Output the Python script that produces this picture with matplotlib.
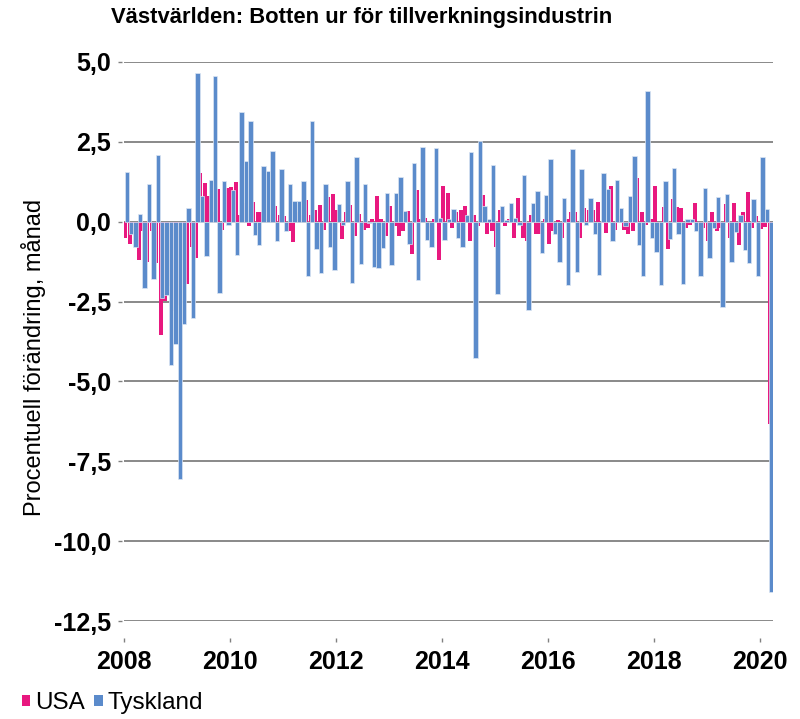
import matplotlib
matplotlib.use("Agg")
import matplotlib.pyplot as plt
from matplotlib.patches import Patch
import numpy as np

plt.rcParams['font.family'] = ['Liberation Sans', 'DejaVu Sans']

title = "Västvärlden: Botten ur för tillverkningsindustrin"
ylabel = "Procentuell förändring, månad"
year_labels = ["2008", "2010", "2012", "2014", "2016", "2018", "2020"]
series_names = ["USA", "Tyskland"]

# Monthly % change, Jan 2008 .. Mar 2020
usa = [
    -0.5, -0.7, -0.4, -1.2, -0.3, -1.25, -0.3, -1.3, -3.55, -2.47, -2.0, -2.8,
    -2.6, -1.2, -1.95, -0.8, -1.13, 1.53, 1.2, 0.8, 0.3, 1.03, -0.25, 1.07,
    1.1, 1.23, 0.2, 0.6, -0.15, 0.63, 0.3, 0.3, 0.1, 0.2, 0.5, 0.2,
    0.19, -0.3, -0.63, 0.3, 0.2, 0.69, 0.2, 0.38, 0.53, -0.27, 0.77, 0.87,
    0.36, -0.55, 0.3, 0.53, -0.45, 0.25, -0.25, -0.2, 0.1, 0.79, 0.1, -0.45,
    0.48, -0.12, -0.45, -0.3, 0.33, -1.02, 0.98, 0.1, 0.13, -0.2, 0.1, -1.2,
    1.11, 0.9, -0.2, 0.3, 0.38, 0.48, -0.6, 0.2, -0.12, 0.85, -0.4, -0.3,
    -0.8, 0.38, -0.12, 0.1, -0.5, 0.73, -0.5, -0.6, 0.2, -0.4, -0.4, 0.1,
    -0.7, -0.3, 0.05, -0.5, 0.1, 0.29, 0.29, -0.5, 0.44, 0.38, 0.38, 0.63,
    -0.05, -0.35, 1.13, -0.25, 0.17, -0.25, -0.4, -0.3, 1.38, 0.3, -0.1, 0.1,
    1.13, -0.3, 0.47, -0.85, 0.7, 0.45, 0.44, -0.2, -0.1, 0.58, -0.1, -0.2,
    -0.6, 0.3, -0.3, -0.2, 0.56, -0.5, 0.6, -0.74, 0.3, 0.94, -0.2, 0.19,
    -0.22, -0.18, -6.34,
]
tyskland = [
    1.55, -0.4, -0.8, 0.25, -2.08, 1.17, -1.8, 2.1, -2.4, -2.3, -4.5, -3.83,
    -8.05, -3.19, 0.42, -3.03, 4.67, 0.79, -1.08, 1.32, 4.55, -2.24, 1.27, -0.1,
    1.0, -1.04, 3.44, 1.91, 3.14, -0.42, -0.74, 1.74, 1.59, 2.22, -0.6, 1.64,
    -0.28, 1.19, 0.66, 0.66, 1.28, -1.71, 3.14, -0.87, -1.6, 1.17, -0.8, -1.5,
    0.56, -0.1, 1.28, -1.92, 2.01, -1.31, 1.19, -0.05, -1.41, -1.44, -0.82, 0.9,
    -1.34, 0.9, 1.4, 0.35, -0.71, 1.83, -1.81, 2.33, -0.57, -0.78, 2.32, 0.13,
    -0.57, 0.1, 0.4, -0.5, -0.8, 0.2, 2.17, -4.27, 2.54, 0.5, 0.1, 1.77,
    -2.27, 0.5, 0.05, 0.6, 0.13, -0.1, 1.45, -2.76, 0.6, 0.95, -0.99, 0.85,
    1.95, -0.4, -1.27, 0.75, -1.97, 2.27, -1.57, 1.66, -0.1, 0.73, -0.4, -1.66,
    1.54, 1.03, -0.59, 1.32, 0.42, -0.12, 0.8, 2.07, -0.74, -1.69, 4.09, -0.5,
    -0.95, -1.97, 1.28, -0.55, 1.67, -0.4, -1.94, 0.1, 0.1, -0.29, -1.71, 1.05,
    -1.15, -0.2, 0.77, -2.68, 0.88, -1.26, -0.31, 0.21, -0.9, -1.29, 0.71, -1.69,
    2.02, 0.4, -11.6,
]

PINK = "#E8187F"
BLUE = "#5B8BCB"
PX = 72.0 / 100.0  # points per pixel at dpi 100

fig = plt.figure(figsize=(8.0, 7.19), dpi=100)
ax = fig.add_axes([0.155, 0.1363, 0.811, 0.7775])

# spine positions first (this resets ticks)
for s in ["top", "right"]:
    ax.spines[s].set_visible(False)
ax.spines["bottom"].set_position(("outward", 17 * PX))
ax.spines["bottom"].set_visible(False)
ax.spines["left"].set_position(("outward", 2 * PX))
ax.spines["left"].set_visible(False)

n = len(usa)
x = np.arange(n) + 0.5
ax.bar(x - 0.2, usa, width=0.9, color=PINK, linewidth=0, zorder=2)
ax.bar(x + 0.15, tyskland, width=1.0, color=BLUE, edgecolor="#DCE6F3",
       linewidth=0.5, zorder=3)

ax.set_xlim(0, n)
ax.set_ylim(-12.5, 5.0)
yt = np.arange(-12.5, 5.01, 2.5)
ax.set_yticks(yt)
ax.set_yticklabels([("%.1f" % v).replace(".", ",") for v in yt])
ax.set_xticks(np.arange(0, n, 24))
ax.set_xticklabels(year_labels)
for lab in ax.get_xticklabels() + ax.get_yticklabels():
    lab.set_fontsize(18)
    lab.set_fontweight("bold")

ax.grid(axis="y", color="#808080", linewidth=1.3, zorder=1)
ax.set_axisbelow(True)
ax.tick_params(axis="x", length=4 * PX, width=1, color="#808080", pad=8 * PX)
ax.tick_params(axis="y", length=4 * PX, width=1, color="#808080", pad=7 * PX)

ax.set_ylabel(ylabel, fontsize=17)
ax.yaxis.set_label_coords(-0.12, 0.472)
fig.text(0.4525, 0.975, title, fontsize=15.8, fontweight="bold",
         ha="center", va="center")

handles = [Patch(facecolor=PINK, edgecolor="none"),
           Patch(facecolor=BLUE, edgecolor="none")]
fig.legend(handles, series_names, loc="center left", bbox_to_anchor=(0.027, 0.022),
           ncol=2, frameon=False, fontsize=17.5, handlelength=0.35,
           handleheight=0.35, handletextpad=0.2, columnspacing=0.4,
           borderaxespad=0, borderpad=0)

fig.savefig("out.png", dpi=100)
